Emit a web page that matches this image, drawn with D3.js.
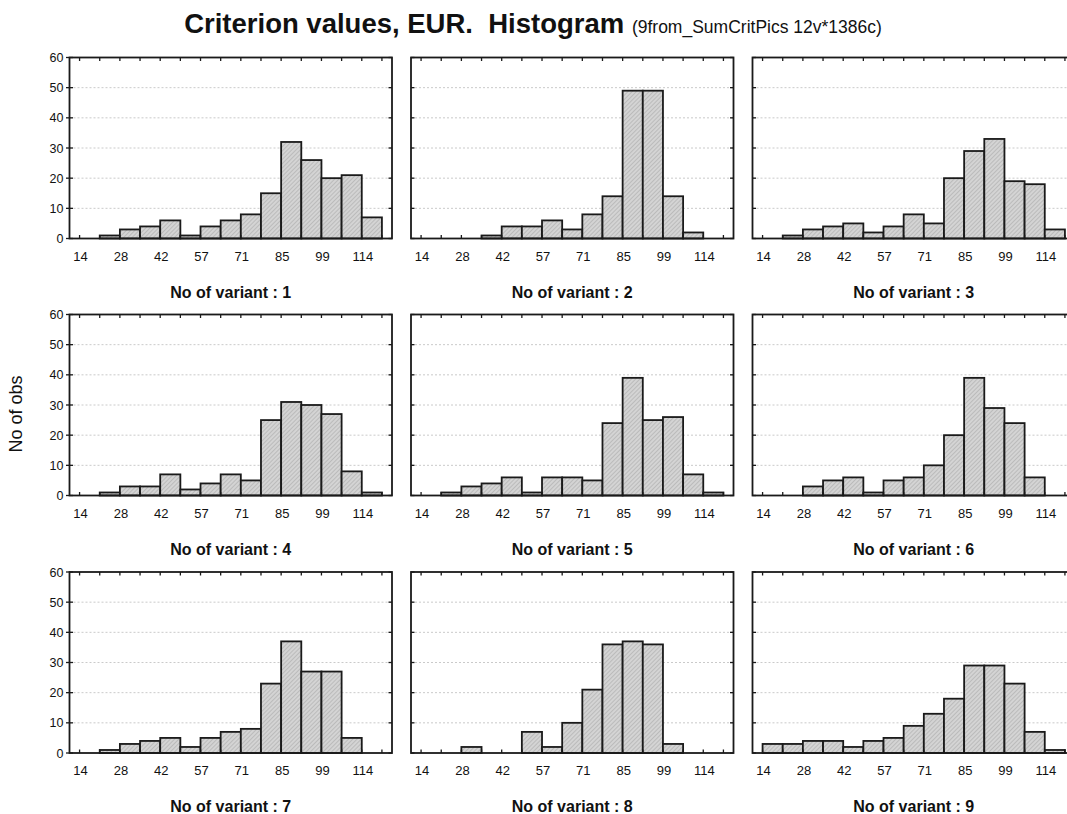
<!DOCTYPE html>
<html>
<head>
<meta charset="utf-8">
<script src="https://cdn.jsdelivr.net/npm/d3@7"></script>
<style>
  html, body { margin: 0; padding: 0; background: #fff; }
  svg { display: block; font-family: "Liberation Sans", Arial, sans-serif; }
</style>
</head>
<body>
<svg id="chart" width="1067" height="814"></svg>
<script>
// Histogram counts per variant (15 bins each)
const variants = ["1", "2", "3", "4", "5", "6", "7", "8", "9"];
const counts1 = [0, 1, 3, 4, 6, 1, 4, 6, 8, 15, 32, 26, 20, 21, 7];
const counts2 = [0, 0, 0, 1, 4, 4, 6, 3, 8, 14, 49, 49, 14, 2, 0];
const counts3 = [0, 1, 3, 4, 5, 2, 4, 8, 5, 20, 29, 33, 19, 18, 3];
const counts4 = [0, 1, 3, 3, 7, 2, 4, 7, 5, 25, 31, 30, 27, 8, 1];
const counts5 = [0, 1, 3, 4, 6, 1, 6, 6, 5, 24, 39, 25, 26, 7, 1];
const counts6 = [0, 0, 3, 5, 6, 1, 5, 6, 10, 20, 39, 29, 24, 6, 0];
const counts7 = [0, 1, 3, 4, 5, 2, 5, 7, 8, 23, 37, 27, 27, 5, 0];
const counts8 = [0, 0, 2, 0, 0, 7, 2, 10, 21, 36, 37, 36, 3, 0, 0];
const counts9 = [3, 3, 4, 4, 2, 4, 5, 9, 13, 18, 29, 29, 23, 7, 1];
const allCounts = [counts1, counts2, counts3, counts4, counts5, counts6, counts7, counts8, counts9];

// Bin geometry of the criterion axis (EUR)
const binStart = 14;
const binWidth = 7.143;
const xTickLabels = ["14", "28", "42", "57", "71", "85", "99", "114"];
const yTicks = [0, 10, 20, 30, 40, 50, 60];

const svg = d3.select("#chart");

// Hatched fill for the bars
const defs = svg.append("defs");
const pat = defs.append("pattern")
  .attr("id", "hatch")
  .attr("patternUnits", "userSpaceOnUse")
  .attr("width", 3).attr("height", 3)
  .attr("patternTransform", "rotate(45)");
pat.append("rect").attr("width", 3).attr("height", 3).attr("fill", "#d4d4d4");
pat.append("line").attr("x1", 0).attr("y1", 0).attr("x2", 0).attr("y2", 3)
  .attr("stroke", "#959595").attr("stroke-width", 0.8);

// Main title
const title = svg.append("text")
  .attr("x", 533).attr("y", 33)
  .attr("text-anchor", "middle");
title.append("tspan").attr("font-weight", "bold").attr("font-size", 27.5)
  .attr("fill", "#111").text("Criterion values, EUR.\u00a0 Histogram ");
title.append("tspan").attr("font-size", 17.5).attr("fill", "#111")
  .text("(9from_SumCritPics 12v*1386c)");

// Shared y-axis title
svg.append("text")
  .attr("transform", "translate(22,414) rotate(-90)")
  .attr("text-anchor", "middle")
  .attr("font-size", 18)
  .attr("fill", "#111")
  .text("No of obs");

const colX = [69.5, 411, 752.5];
const rowY = [57.5, 314.5, 572];
const panelW = 322.5;
const panelH = 181;

const nBins = counts1.length;
const edges = d3.range(nBins + 1).map(i => binStart + i * binWidth);

const x = d3.scaleLinear()
  .domain([binStart - binWidth / 2, binStart + (nBins + 0.5) * binWidth])
  .range([0, panelW]);
const y = d3.scaleLinear().domain([0, 60]).range([panelH, 0]);

allCounts.forEach((counts, k) => {
  const col = k % 3, row = Math.floor(k / 3);
  const g = svg.append("g")
    .attr("transform", `translate(${colX[col]},${rowY[row]})`);

  // dotted gridlines
  g.append("g").selectAll("line")
    .data(yTicks.filter(t => t > 0 && t < 60))
    .join("line")
    .attr("x1", 0).attr("x2", panelW)
    .attr("y1", d => y(d)).attr("y2", d => y(d))
    .attr("stroke", "#bdbdbd")
    .attr("stroke-width", 0.8)
    .attr("stroke-dasharray", "2,2");

  // bars
  g.append("g").selectAll("rect")
    .data(counts)
    .join("rect")
    .attr("x", (d, i) => x(edges[i]))
    .attr("width", (d, i) => x(edges[i + 1]) - x(edges[i]))
    .attr("y", d => y(d))
    .attr("height", d => y(0) - y(d))
    .attr("fill", "url(#hatch)")
    .attr("stroke", "#1a1a1a")
    .attr("stroke-width", 1.8);

  // frame
  g.append("rect")
    .attr("x", 0).attr("y", 0)
    .attr("width", panelW).attr("height", panelH)
    .attr("fill", "none")
    .attr("stroke", "#1a1a1a")
    .attr("stroke-width", 1.8);

  // inward ticks on top and bottom at each bin edge
  const tickG = g.append("g").attr("stroke", "#1a1a1a").attr("stroke-width", 1.3);
  tickG.selectAll("line.top").data(edges).join("line")
    .attr("class", "top")
    .attr("x1", d => x(d)).attr("x2", d => x(d))
    .attr("y1", 0).attr("y2", 3.5);
  tickG.selectAll("line.bot").data(edges).join("line")
    .attr("class", "bot")
    .attr("x1", d => x(d)).attr("x2", d => x(d))
    .attr("y1", panelH).attr("y2", panelH - 3.5);
  // right and left ticks at y gridlines
  tickG.selectAll("line.right").data(yTicks).join("line")
    .attr("class", "right")
    .attr("x1", panelW).attr("x2", panelW - 3.5)
    .attr("y1", d => y(d)).attr("y2", d => y(d));
  tickG.selectAll("line.left").data(yTicks).join("line")
    .attr("class", "left")
    .attr("x1", col === 0 ? -3.5 : 0).attr("x2", 3.5)
    .attr("y1", d => y(d)).attr("y2", d => y(d));

  // x tick labels at every second bin edge
  g.append("g").selectAll("text")
    .data(xTickLabels)
    .join("text")
    .attr("x", (d, i) => x(edges[i * 2]) + 1)
    .attr("y", panelH + 22)
    .attr("text-anchor", "middle")
    .attr("font-size", 13)
    .attr("fill", "#111")
    .text(d => d);

  // y tick labels on the first column only
  if (col === 0) {
    g.append("g").selectAll("text")
      .data(yTicks)
      .join("text")
      .attr("x", -6)
      .attr("y", d => y(d) + 4.5)
      .attr("text-anchor", "end")
      .attr("font-size", 12.5)
      .attr("fill", "#111")
      .text(d => d);
  }

  // panel caption
  g.append("text")
    .attr("x", panelW / 2)
    .attr("y", panelH + 59)
    .attr("text-anchor", "middle")
    .attr("font-size", 16)
    .attr("font-weight", "bold")
    .attr("fill", "#111")
    .text(`No of variant : ${variants[k]}`);
});
</script>
</body>
</html>
